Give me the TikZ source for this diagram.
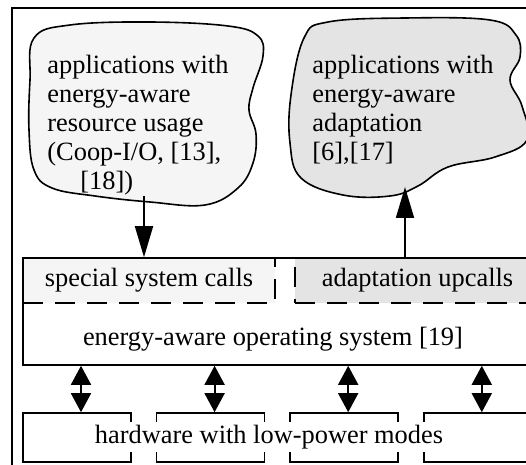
\documentclass[tikz,border=0pt]{standalone}
\usepackage{fontspec}
\setmainfont{Liberation Serif}
\usetikzlibrary{arrows.meta,positioning,calc}
\definecolor{pale}{gray}{0.96}
\definecolor{shade}{gray}{0.895}
\tikzset{
  txt/.style={font=\fontsize{13.2pt}{14.5pt}\selectfont},
  box/.style={draw, line width=0.8pt, txt, inner sep=0pt},
  callbox/.style={box, dashed, dash pattern=on 10pt off 6pt, minimum height=22.5pt},
  osbox/.style={box, minimum width=260pt, minimum height=53.5pt},
  hwbox/.style={box, minimum width=54pt, minimum height=24.5pt},
  blob/.style={draw, line width=0.8pt},
  arrow/.style={-{Triangle[length=15.5pt,width=9pt]}, line width=0.9pt},
  dblarrow/.style={{Triangle[length=9.5pt,width=10pt]}-{Triangle[length=9.5pt,width=10pt]}, line width=0.9pt},
  frame/.style={draw, line width=1pt},
}
\begin{document}
\begin{tikzpicture}[x=0.5pt, y=-0.5pt, node distance=2mm and 12pt]
  \useasboundingbox (0,0) rectangle (526,465);
  \clip (0,0) rectangle (526,465);
  \draw[frame] (12,8) rectangle (560,490);

  % application clouds
  \draw[blob, fill=pale] plot[smooth cycle, tension=0.65] coordinates {
    (34,38) (70,25) (150,22) (228,26) (258,36) (263,56) (253,88) (249,110)
    (256,134) (253,163) (238,188) (205,205) (150,202) (95,196) (52,188)
    (34,170) (29,130) (30,80)};
  \draw[blob, fill=shade] plot[smooth cycle, tension=0.65] coordinates {
    (304,38) (328,22) (405,18) (490,20) (516,35) (520,57) (510,80)
    (522,106) (527,140) (495,157) (448,167) (418,186) (390,196) (343,195)
    (301,178) (290,143) (291,95)};
  \node[txt, align=left, anchor=north west, inner sep=0pt] (resapps) at (47,55)
    {applications with\\energy-aware\\resource usage\\(Coop-I/O, [13],\\\hspace*{16.5pt}[18])};
  \node[txt, align=left, anchor=north west, inner sep=0pt] (adaptapps) at (312,55)
    {applications with\\energy-aware\\adaptation\\{}[6],[17]};

  % operating system
  \node[callbox, fill=pale, minimum width=126pt] (syscalls) at (149,280.5) {special system calls};
  \node[callbox, fill=shade, minimum width=122.5pt] (upcalls) at (417.5,280.5) {adaptation upcalls};
  \node[osbox] (os) at (283,311.5) {};
  \node[txt] (oslabel) at (273,339) {energy-aware operating system [19]};

  % hardware
  \node[hwbox] (hw1) at (77,437.5) {};
  \node[hwbox, right=of hw1] (hw2) {};
  \node[hwbox, right=of hw2] (hw3) {};
  \node[hwbox, right=of hw3] (hw4) {};
  \node[txt, fill=white, inner xsep=0pt, inner ysep=1.6pt] (hwlabel) at (269,437) {hardware with low-power modes};

  % connectors
  \coordinate (resout) at (144,196);
  \coordinate (adaptin) at (405,187);
  \draw[arrow] (resout) -- (resout |- syscalls.north);
  \draw[arrow] (upcalls.north -| adaptin) -- (adaptin);
  \foreach \i in {1,...,4} {
    \coordinate (hwtop\i) at ([xshift=2pt]hw\i.north);
    \draw[dblarrow] (hwtop\i |- os.south) -- (hwtop\i);
  }
\end{tikzpicture}
\end{document}
